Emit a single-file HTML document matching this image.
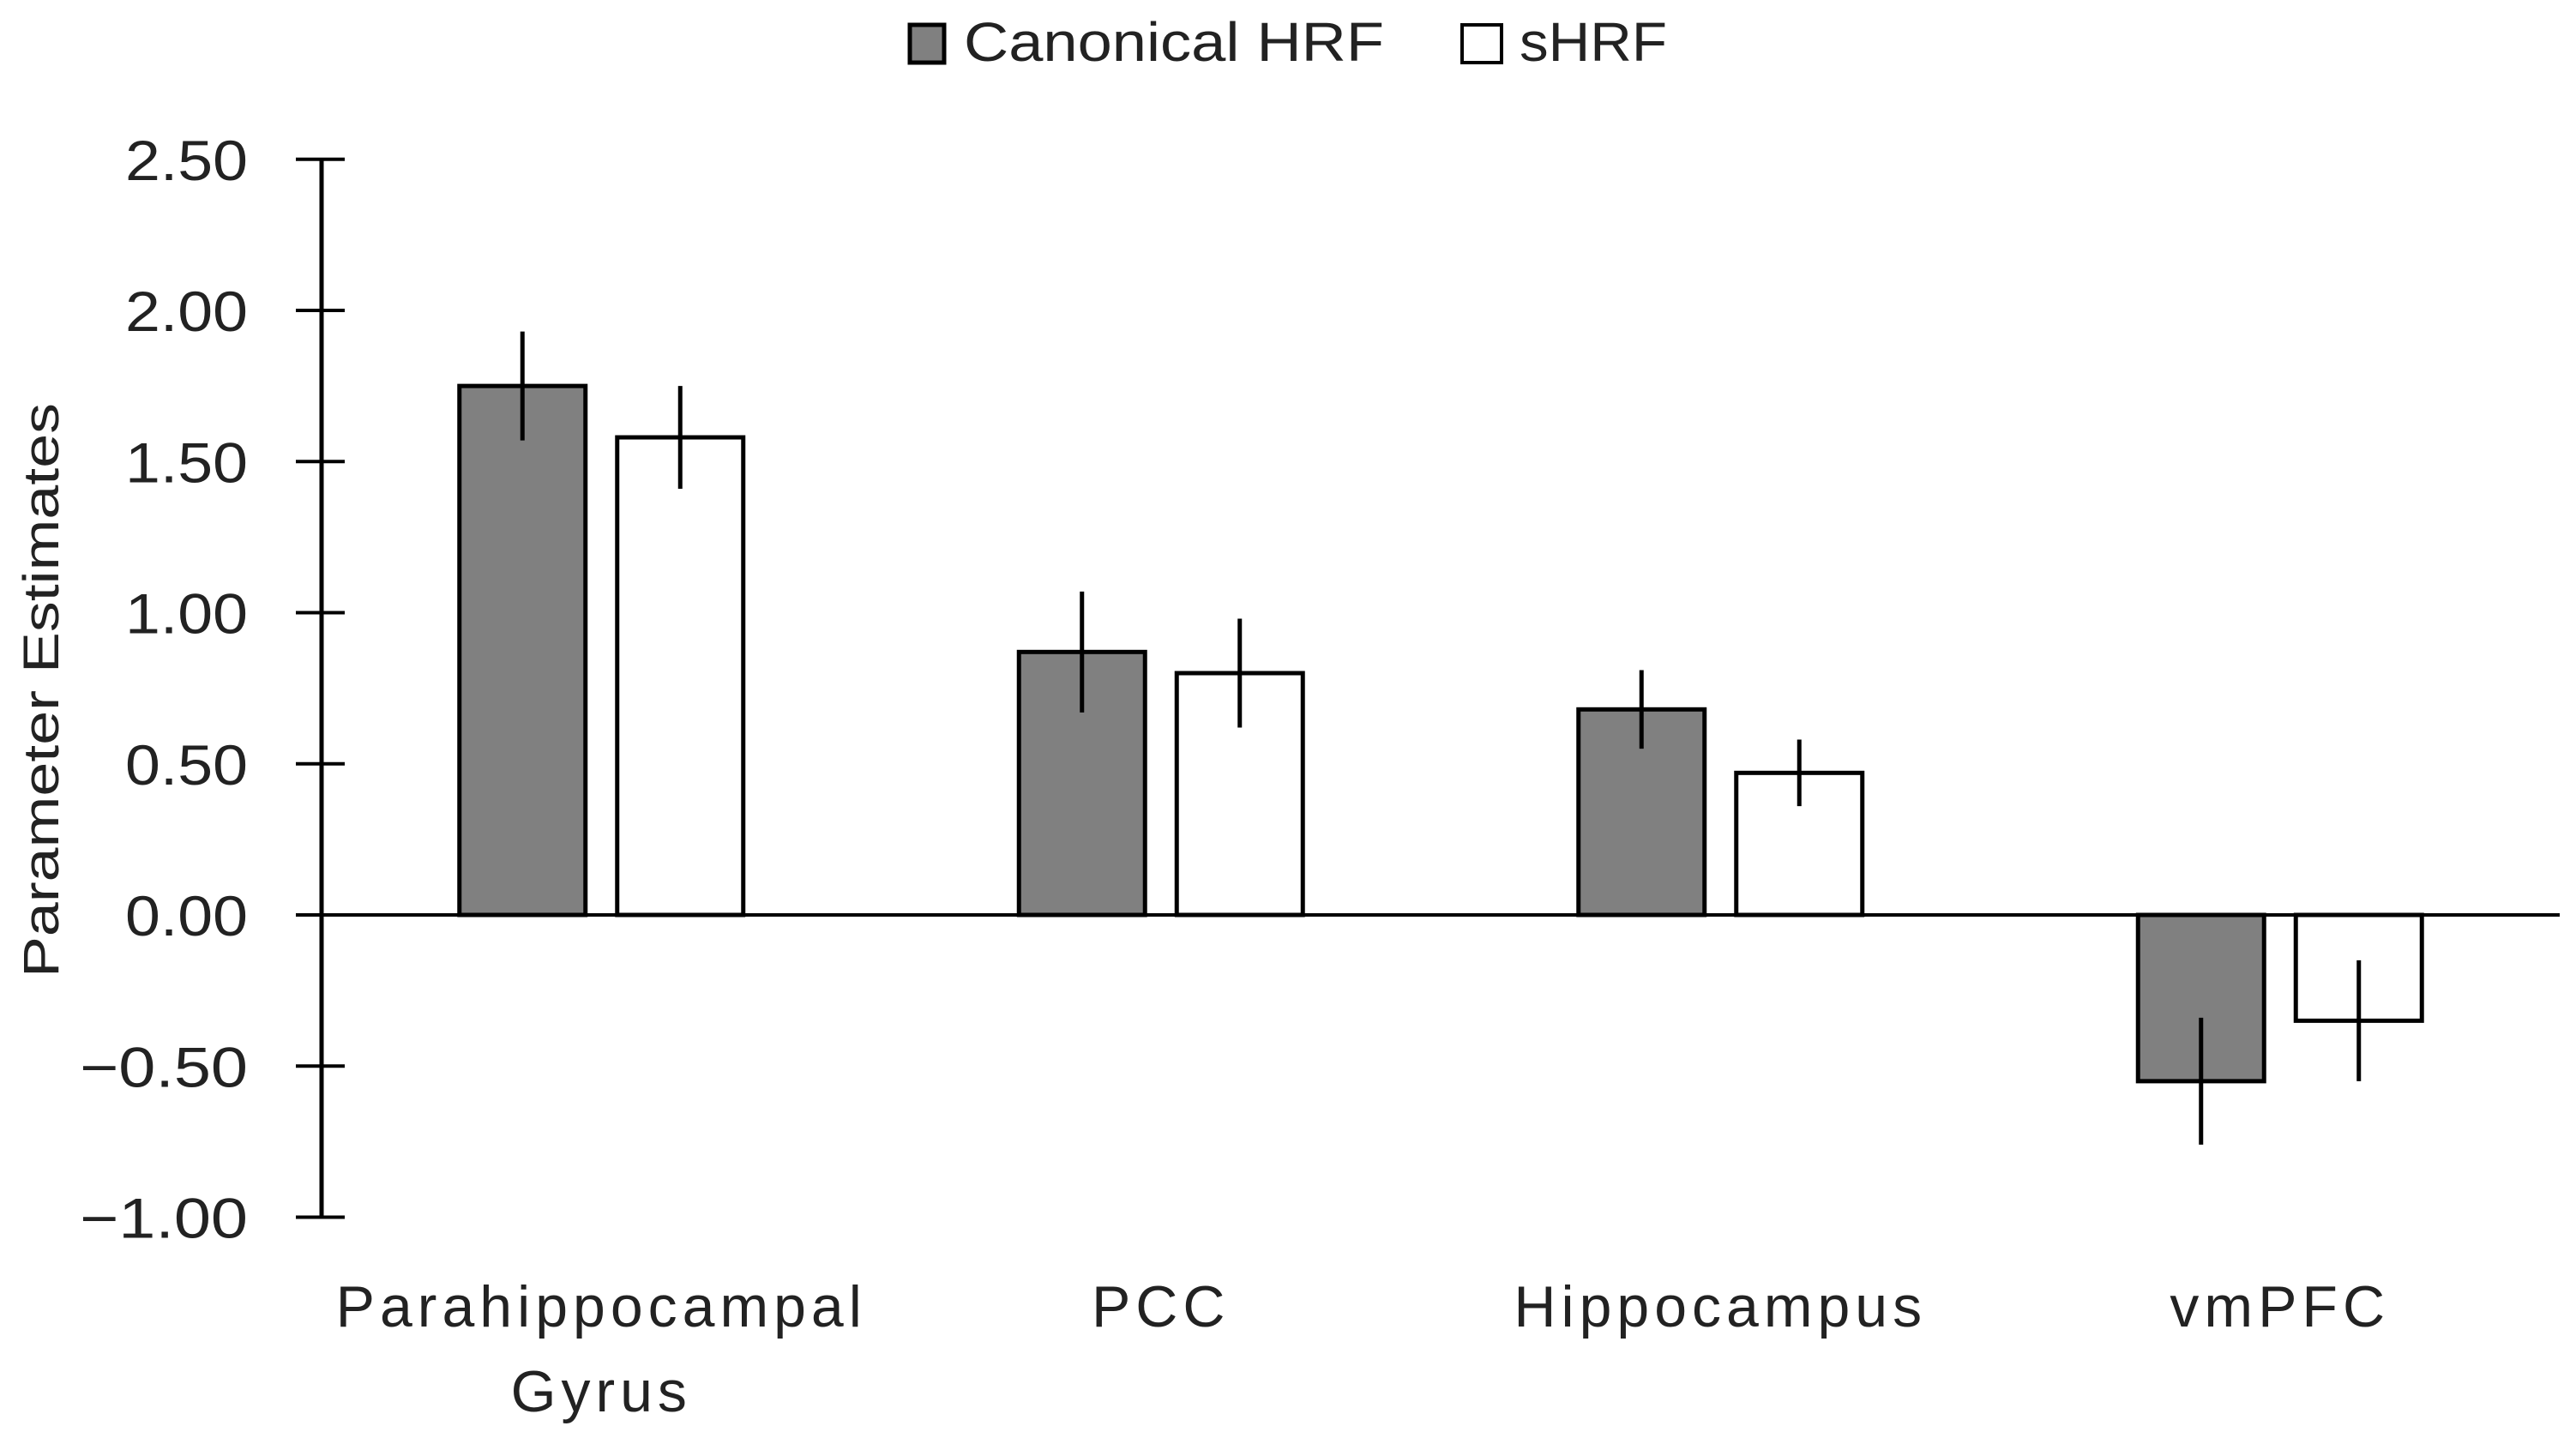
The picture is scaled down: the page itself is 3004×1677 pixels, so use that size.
<!DOCTYPE html>
<html><head><meta charset="utf-8"><style>body{margin:0;background:#fff}svg{display:block}</style></head>
<body>
<svg id="chart" width="3004" height="1677" xmlns="http://www.w3.org/2000/svg" font-family="Liberation Sans, sans-serif">
<g>
<rect x="1061" y="29" width="40" height="44" fill="#808080" stroke="#000" stroke-width="5"/>
<text x="1124" y="71" font-size="64" textLength="490" lengthAdjust="spacingAndGlyphs" fill="#222">Canonical HRF</text>
<rect x="1705" y="29" width="46" height="44" fill="#fff" stroke="#000" stroke-width="4"/>
<text x="1772" y="71" font-size="64" textLength="172" lengthAdjust="spacingAndGlyphs" fill="#222">sHRF</text>
</g>
<text transform="translate(68,805) rotate(-90)" text-anchor="middle" font-size="58" textLength="670" lengthAdjust="spacingAndGlyphs" fill="#222">Parameter Estimates</text>
<g id="axes"></g>
<g id="bars"></g>
</svg>
<script>
const categories = ["Parahippocampal|Gyrus", "PCC", "Hippocampus", "vmPFC"];
const canonical = [1.75, 0.87, 0.68, -0.55];
const canonicalErr = [0.18, 0.20, 0.13, 0.21];
const shrf = [1.58, 0.80, 0.47, -0.35];
const shrfErr = [0.17, 0.18, 0.11, 0.20];
const yTicks = [2.5, 2.0, 1.5, 1.0, 0.5, 0.0, -0.5, -1.0];

const NS = "http://www.w3.org/2000/svg";
const plotL = 375, plotR = 2985, y0px = 1067, pxPerUnit = 352.5;
const y = v => y0px - v * pxPerUnit;
const band = (plotR - plotL) / categories.length;
const bw = 147, gap = 37;
function mk(tag, attrs, parent) { const e = document.createElementNS(NS, tag); for (const k in attrs) e.setAttribute(k, attrs[k]); parent.appendChild(e); return e; }
const axes = document.getElementById('axes'), bars = document.getElementById('bars');

const yAxis = mk('line', {x1: plotL, x2: plotL, y1: y(2.5), y2: y(-1), stroke: '#000', 'stroke-width': 5}, axes);


yTicks.forEach(t => {
  const tk = mk('line', {x1: plotL - 30, x2: plotL + 27, y1: y(t), y2: y(t), stroke: '#000', 'stroke-width': 4}, axes);
  
  
  const s = (t < 0 ? '\u2212' : '') + Math.abs(t).toFixed(2);
  const tl = mk('text', {x: 289, y: y(t) + 24, 'text-anchor': 'end', 'font-size': 66, fill: '#222', textLength: t < 0 ? 196 : 143, lengthAdjust: 'spacingAndGlyphs'}, axes);
  tl.textContent = s;
  
  
});

categories.forEach((c, i) => {
  const cx = plotL + band * (i + 0.5);
  const series = [[canonical[i], canonicalErr[i], '#808080', 'canonical'], [shrf[i], shrfErr[i], '#fff', 'shrf']];
  series.forEach((s, j) => {
    const x = j === 0 ? cx - gap / 2 - bw : cx + gap / 2;
    const top = Math.min(y(s[0]), y(0)), h = Math.abs(y(s[0]) - y(0));
    const r = mk('rect', {x: x, y: top, width: bw, height: h, fill: s[2], stroke: '#000', 'stroke-width': 5}, bars);
    
    
    const e = mk('line', {x1: x + bw / 2, x2: x + bw / 2, y1: y(s[0] + s[1]), y2: y(s[0] - s[1]), stroke: '#000', 'stroke-width': 5}, bars);
    
    
  });
  const lines = c.split('|');
  lines.forEach((ln, k) => {
    const t = mk('text', {x: cx, y: 1547 + k * 99, 'text-anchor': 'middle', 'font-size': 68, fill: '#222', 'letter-spacing': 6}, axes);
    t.textContent = ln;
    
    
  });
});
const zl = mk('line', {x1: plotL - 30, x2: plotR, y1: y(0), y2: y(0), stroke: '#000', 'stroke-width': 4}, bars);


</script>
</body></html>
